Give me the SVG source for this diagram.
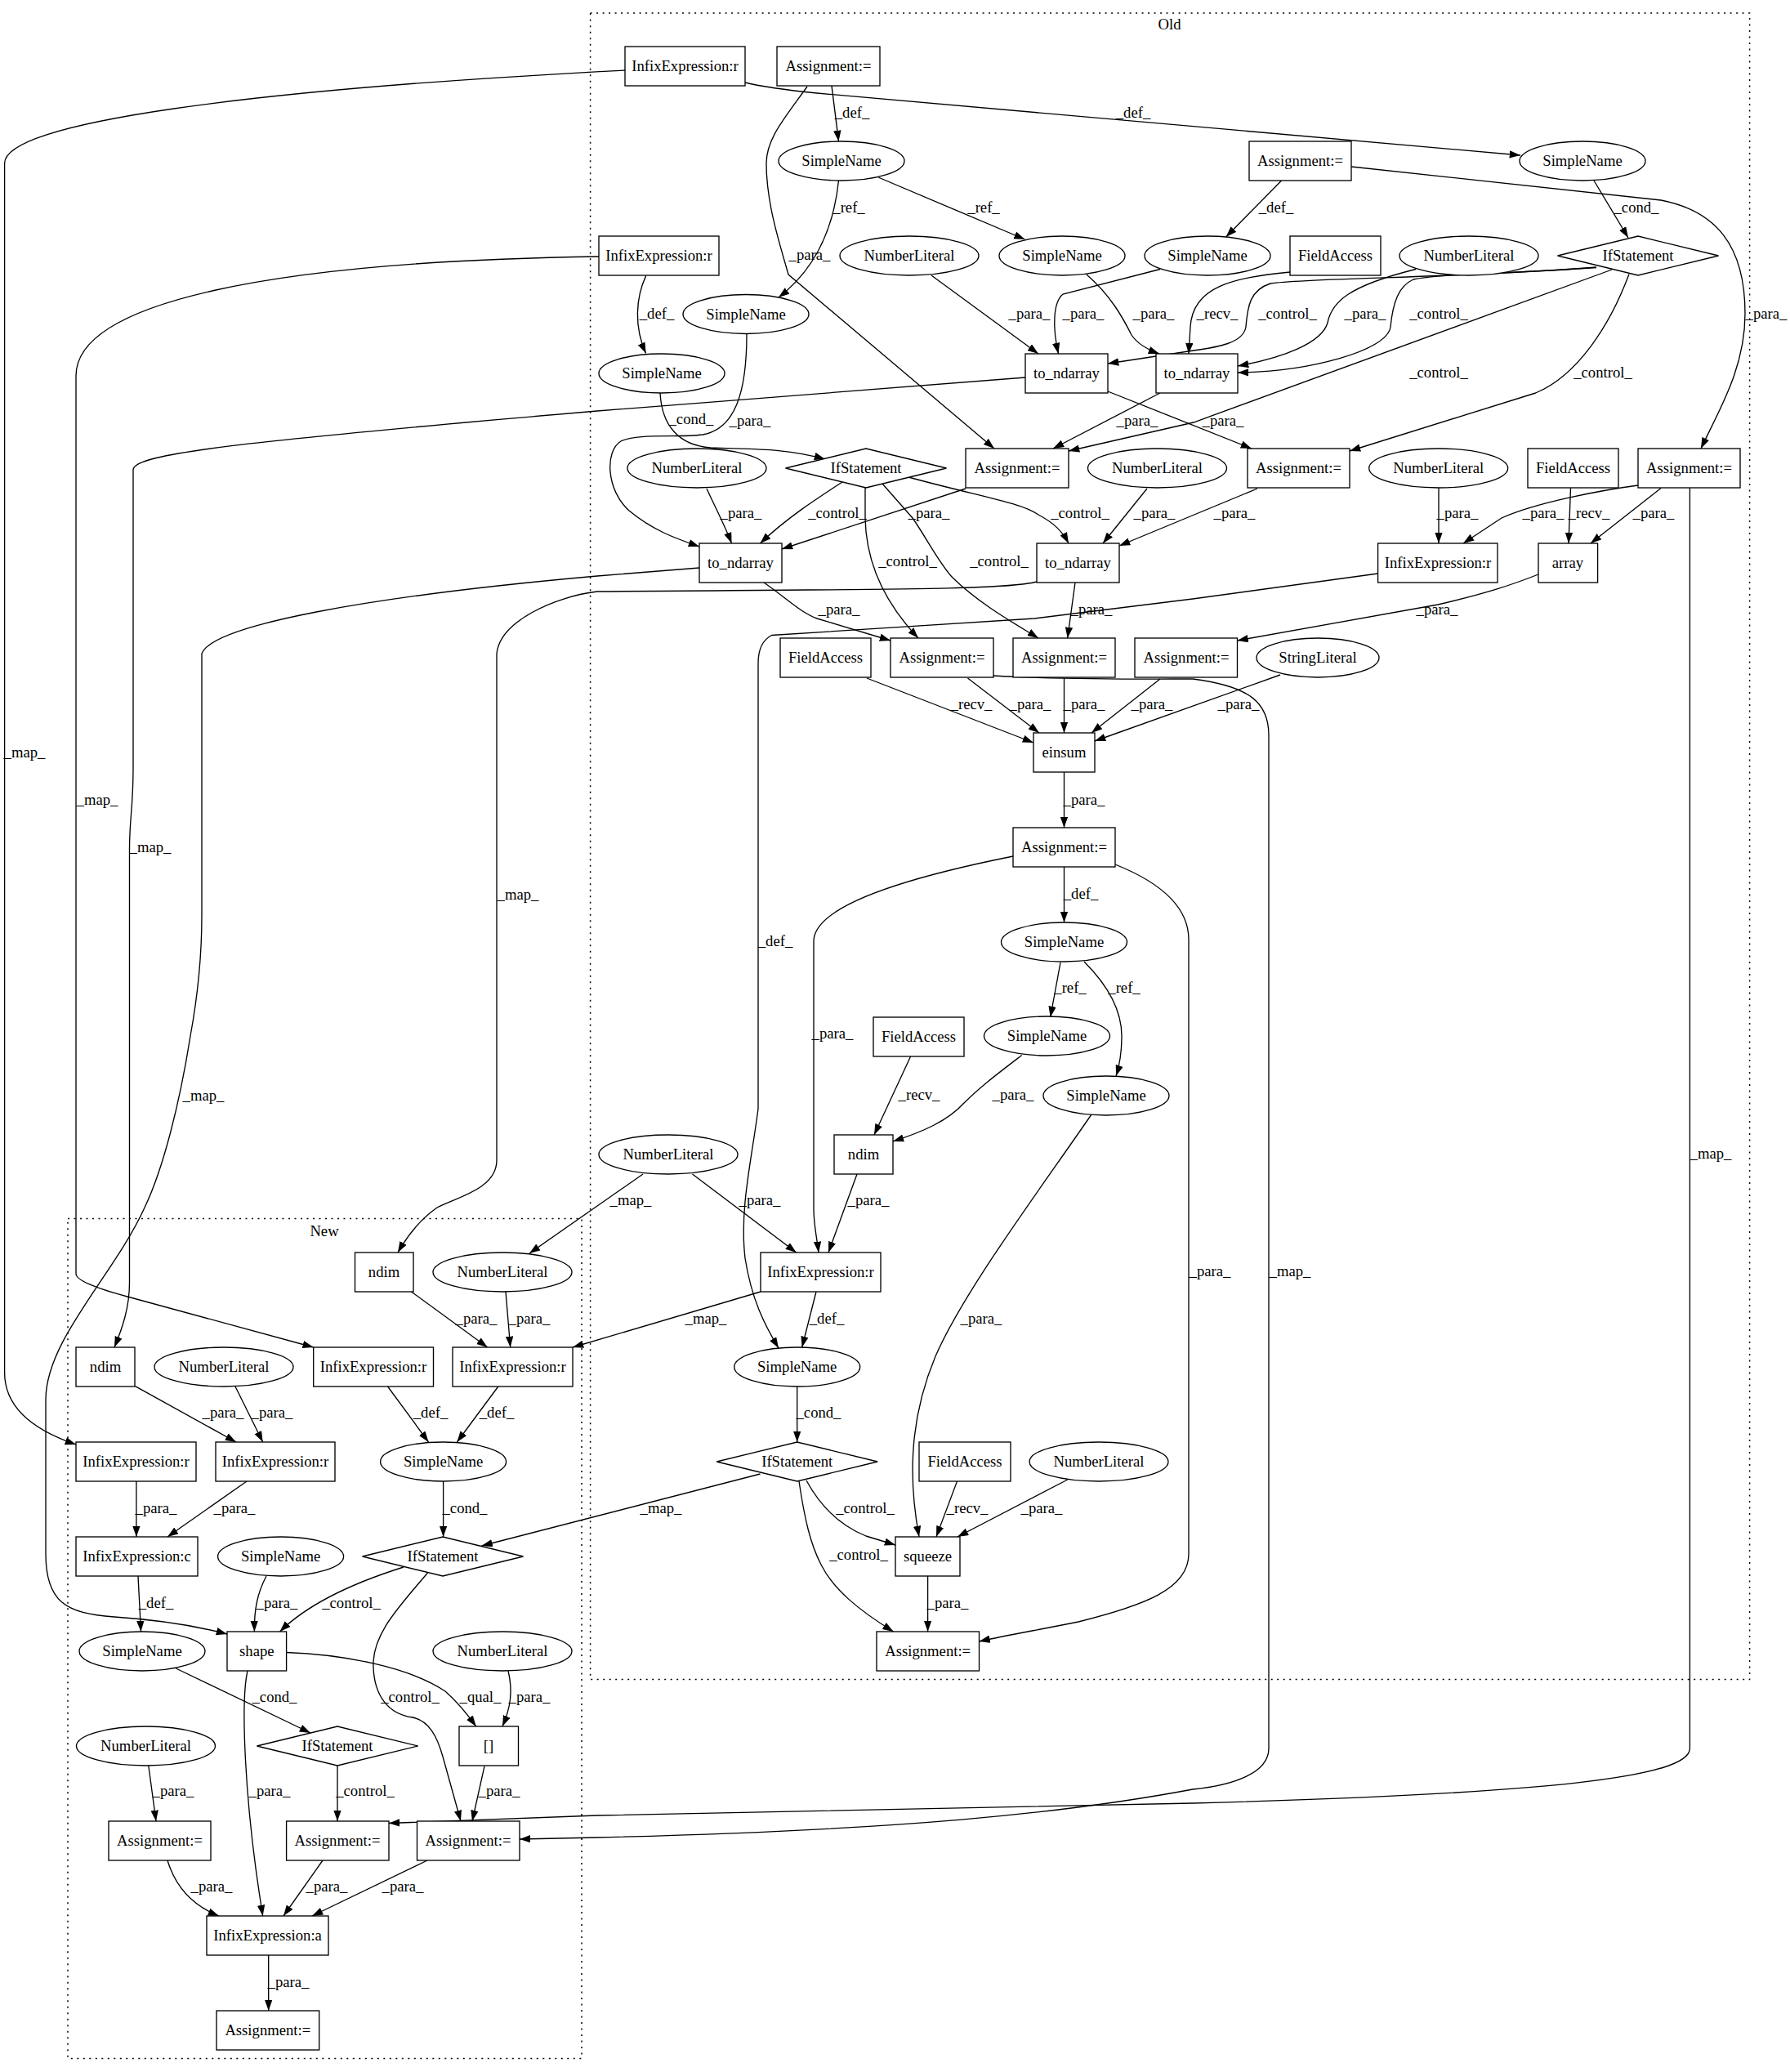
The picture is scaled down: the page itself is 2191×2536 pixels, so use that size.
<svg xmlns="http://www.w3.org/2000/svg" width="2191" height="2536" viewBox="0 0 2191 2536">
<defs>
<marker id="ah" markerUnits="userSpaceOnUse" markerWidth="14" markerHeight="10" viewBox="0 0 14 10" refX="13.3" refY="4.7" orient="auto"><path d="M0,0 L13.3,4.7 L0,9.4 z" fill="#000"/></marker>
<style>
text{font-family:"Liberation Serif","Times New Roman",serif;font-size:18.67px;fill:#000;text-anchor:middle}
.b{fill:#fff;stroke:#000;stroke-width:1.33}
.c{fill:none;stroke:#000;stroke-width:1.5;stroke-dasharray:2,5.5}
.e path{fill:none;stroke:#000;stroke-width:1.33;marker-end:url(#ah)}
</style>
</defs>
<rect width="2191" height="2536" fill="#fff"/>
<g id="cluster_old"><rect class="c" x="722.6" y="16" width="1419" height="2039.6"/><text x="1431.6" y="36">Old</text></g>
<g id="cluster_new"><rect class="c" x="83" y="1491.6" width="629" height="1027.8"/><text x="397" y="1513">New</text></g>

<g class="e" id="edges">
<path d="M912,101 Q940,108 1000,114 L1861,190"/>
<path d="M765,86 C300,110 5.6,150 5.6,200 L5.6,1680 C5.6,1722 40,1750 93,1768"/>
<path d="M1018,105 L1026.5,173"/>
<path d="M988,106 C960,145 938,170 938,200 C938,250 955,300 965,336 L1217,549"/>
<path d="M1026.5,221 C1020,283 996,331 953,364"/>
<path d="M1075,217 L1254.5,293"/>
<path d="M1568.6,221 L1500.6,290"/>
<path d="M1654,204 L2033,245 C2100,258 2136,300 2136,384 C2136,450 2105,500 2082,549"/>
<path d="M1951,221 L1993,291"/>
<path d="M790.6,337.6 C778,365 776,400 790.6,432.6"/>
<path d="M733,314 C330,320 93,370 93,460 L93,1559 Q93,1570 156,1587 L383.7,1649"/>
<path d="M1140,337 L1271,433"/>
<path d="M1420,329.5 L1301,360 C1289,370 1288,400 1295.5,433"/>
<path d="M1330,336 C1360,362 1375,390 1385,410 C1393,422 1405,428 1419,433"/>
<path d="M1579,333 C1510,340 1460,350 1457,400 L1455,433"/>
<path d="M1733,329.5 C1650,350 1630,370 1625,395 C1618,420 1570,438 1515,448"/>
<path d="M1954,327.5 C1850,335 1760,335 1730,342 C1712,350 1705,370 1702,400 C1698,430 1600,455 1515,456"/>
<path d="M1954,327 C1800,340 1600,340 1555,347 C1530,355 1527,375 1525,400 C1522,420 1490,425 1461,429 L1356,445"/>
<path d="M1973,330 L1461,517 L1308,552"/>
<path d="M1994,335.6 C1970,400 1930,460 1879.6,481 L1652,552"/>
<path d="M914,409 C914,480 900,525 860,532 C830,536 780,530 760,540 C740,552 742,600 770,625 C800,650 830,660 856,669"/>
<path d="M808,481 C810,520 830,545 870,548 C920,550 960,548 1010,562"/>
<path d="M1255,462 L731,503 C300,540 163,555 163,575 L163,940 C163,990 158.5,1000 158.5,1040 L158.5,1570 C158.5,1600 150,1625 140,1649"/>
<path d="M865,598 C875,620 888,645 895.5,665"/>
<path d="M1031,590 C1000,610 963,634 930.5,665"/>
<path d="M1112,584 C1200,608 1250,615 1271,630 C1290,640 1300,650 1308,665"/>
<path d="M1059,597 L1059,634 C1060,690 1085,740 1124,781"/>
<path d="M1080,592 L1117,634 C1135,660 1150,690 1166,707 C1200,740 1240,762 1271,781"/>
<path d="M1182,598 L957,672"/>
<path d="M1420,481 L1289,549"/>
<path d="M1356,479 L1532,549"/>
<path d="M1404,598 L1350,665"/>
<path d="M1539,598 L1370,668"/>
<path d="M1761,597.6 L1761,665"/>
<path d="M2005,594 C1960,600 1880,615 1838,634 L1791,665"/>
<path d="M1922.5,597.6 L1920,665"/>
<path d="M2033,597.6 L1947,665"/>
<path d="M2068.4,597 L2068.4,2140 C2068.4,2175 1900,2195 1460,2207 L731,2222 L476,2231.5"/>
<path d="M1216,827 C1300,832 1400,831 1460,831 C1530,840 1553,860 1553,900 L1553,2140 C1553,2170 1510,2185 1460,2190 C1300,2220 1100,2240 730,2249 L636,2251"/>
<path d="M935,713 C960,730 980,750 1000,757 L1090,784"/>
<path d="M1316,713 L1306.7,781"/>
<path d="M856,695 L731,705 C450,730 260,765 247,800 L247,1120 C247,1180 240,1230 233,1268 C220,1350 200,1430 177,1478 C140,1560 56,1640 56,1713 L56,1902 C56,1960 80,1975 140,1979 C200,1983 240,1990 278,2000"/>
<path d="M1269,712 C1230,722 1100,721 731,724 C680,730 612,760 608,800 L608,1420 C608,1455 560,1465 535,1478 C515,1492 500,1510 487,1533"/>
<path d="M1686.6,702 L1460,733 L1266,757 L944.5,777.5 C930,785 928,800 928,812 L928,1357 C920,1420 905,1480 912,1540 C920,1590 935,1620 953,1650"/>
<path d="M1061,830 L1265,909"/>
<path d="M1184.5,830 L1272,897"/>
<path d="M1302.5,830 L1302.5,897"/>
<path d="M1420,831 L1336,897"/>
<path d="M1567,826 L1340,907"/>
<path d="M1883,703 C1850,716 1820,726 1760,740 L1514.5,784"/>
<path d="M1302.5,945 L1302.5,1013"/>
<path d="M1302.5,1061 L1302.5,1129"/>
<path d="M1240,1048 C1100,1076 996,1110 996,1152 L996,1480 C996,1500 1000,1515 1002,1533"/>
<path d="M1365,1058 C1420,1080 1455,1110 1455,1150 L1455,1902 C1455,1945 1400,1965 1320,1985 C1270,1995 1230,2002 1198.5,2009"/>
<path d="M1298,1178 L1285.7,1245"/>
<path d="M1327,1177 C1360,1210 1373,1240 1373,1268 C1373,1290 1370,1305 1366,1317"/>
<path d="M1114.6,1293 L1070,1389"/>
<path d="M1250.7,1291.5 C1220,1315 1200,1330 1180,1350 C1160,1372 1130,1385 1093,1397"/>
<path d="M1049,1437 L1014,1533"/>
<path d="M847.5,1437 L974.7,1533"/>
<path d="M787,1437 L648,1534"/>
<path d="M931,1581 L701,1649"/>
<path d="M999,1581 L981.7,1649"/>
<path d="M975.7,1697 L975.7,1765"/>
<path d="M930.5,1804 L589.5,1892"/>
<path d="M987,1812 C1005,1845 1030,1868 1060,1880 L1096,1891"/>
<path d="M978,1813 C985,1860 992,1890 1005,1915 C1020,1945 1050,1970 1093.6,1997"/>
<path d="M1171.5,1813 L1146,1881"/>
<path d="M1306.7,1811 L1172,1881"/>
<path d="M1336,1364 C1270,1460 1180,1580 1145,1660 C1120,1720 1108,1790 1125,1881"/>
<path d="M1135.6,1929 L1135.6,1997"/>
<path d="M503.5,1581 L596.7,1649"/>
<path d="M619,1581 L624.7,1649"/>
<path d="M474.6,1697 L524.5,1765"/>
<path d="M609.8,1697 L559.4,1765"/>
<path d="M165.5,1696.6 L289,1765"/>
<path d="M288,1697 L321.7,1765"/>
<path d="M166.9,1813 L166.9,1881"/>
<path d="M302,1813 L205,1881"/>
<path d="M542.6,1813 L542.6,1881"/>
<path d="M169,1929 L172.5,1997"/>
<path d="M326,1929 C315,1950 311,1970 311.4,1997"/>
<path d="M494,1918 C440,1935 380,1960 342.6,1997"/>
<path d="M523.5,1925 C490,1965 455,2000 457,2040 C458,2075 475,2098 505,2102 C525,2106 535,2125 542,2150 L564,2229"/>
<path d="M350.6,2022.5 C420,2025 500,2040 545,2070 C562,2085 572,2098 582.7,2113"/>
<path d="M622,2045 C628,2070 625,2090 615,2113"/>
<path d="M215.4,2042 L380,2121"/>
<path d="M303,2045 C295,2080 298,2200 321.7,2345"/>
<path d="M181.8,2161 L191,2229"/>
<path d="M413,2161 L413,2229"/>
<path d="M593,2161.6 L578,2229"/>
<path d="M205,2277 C215,2310 235,2332 268,2345"/>
<path d="M395,2277 L347,2345"/>
<path d="M523,2277 L382,2345"/>
<path d="M328.7,2393 L328.7,2461"/>
</g>

<g id="edge_labels">
<text x="1387" y="144">_def_</text>
<text x="30" y="927">_map_</text>
<text x="1043" y="144">_def_</text>
<text x="991" y="318">_para_</text>
<text x="1039" y="260">_ref_</text>
<text x="1204" y="260">_ref_</text>
<text x="1562" y="260">_def_</text>
<text x="2162" y="390">_para_</text>
<text x="2003" y="260">_cond_</text>
<text x="804" y="390">_def_</text>
<text x="119" y="985">_map_</text>
<text x="1260" y="390">_para_</text>
<text x="1326" y="390">_para_</text>
<text x="1412" y="390">_para_</text>
<text x="1490" y="390">_recv_</text>
<text x="1671" y="390">_para_</text>
<text x="1761" y="390">_control_</text>
<text x="1576" y="390">_control_</text>
<text x="1761" y="462">_control_</text>
<text x="1962" y="462">_control_</text>
<text x="918" y="521">_para_</text>
<text x="846" y="519">_cond_</text>
<text x="1392" y="521">_para_</text>
<text x="1497" y="521">_para_</text>
<text x="184" y="1043">_map_</text>
<text x="907" y="634">_para_</text>
<text x="1025" y="634">_control_</text>
<text x="1137" y="634">_para_</text>
<text x="1322" y="634">_control_</text>
<text x="1413" y="634">_para_</text>
<text x="1511" y="634">_para_</text>
<text x="1784" y="634">_para_</text>
<text x="1889" y="634">_para_</text>
<text x="1945" y="634">_recv_</text>
<text x="2024" y="634">_para_</text>
<text x="1111" y="693">_control_</text>
<text x="1223" y="693">_control_</text>
<text x="1027" y="752">_para_</text>
<text x="1336" y="752">_para_</text>
<text x="1759" y="752">_para_</text>
<text x="1189" y="868">_recv_</text>
<text x="1261" y="868">_para_</text>
<text x="1327" y="868">_para_</text>
<text x="1410" y="868">_para_</text>
<text x="1516" y="868">_para_</text>
<text x="1327" y="985">_para_</text>
<text x="1323" y="1100">_def_</text>
<text x="949" y="1158">_def_</text>
<text x="634" y="1101">_map_</text>
<text x="249" y="1347">_map_</text>
<text x="1310" y="1215">_ref_</text>
<text x="1376" y="1215">_ref_</text>
<text x="1019" y="1271">_para_</text>
<text x="1125" y="1346">_recv_</text>
<text x="1240" y="1346">_para_</text>
<text x="2094" y="1418">_map_</text>
<text x="1063" y="1475">_para_</text>
<text x="930" y="1475">_para_</text>
<text x="772" y="1475">_map_</text>
<text x="1481" y="1562">_para_</text>
<text x="1579" y="1562">_map_</text>
<text x="864" y="1620">_map_</text>
<text x="1012" y="1620">_def_</text>
<text x="1201" y="1620">_para_</text>
<text x="1002" y="1735">_cond_</text>
<text x="809" y="1852">_map_</text>
<text x="1059" y="1852">_control_</text>
<text x="1184" y="1852">_recv_</text>
<text x="1275" y="1852">_para_</text>
<text x="1051" y="1909">_control_</text>
<text x="1160" y="1968">_para_</text>
<text x="583" y="1620">_para_</text>
<text x="648" y="1620">_para_</text>
<text x="527" y="1735">_def_</text>
<text x="608" y="1735">_def_</text>
<text x="273" y="1735">_para_</text>
<text x="333" y="1735">_para_</text>
<text x="191" y="1852">_para_</text>
<text x="287" y="1852">_para_</text>
<text x="569" y="1852">_cond_</text>
<text x="191" y="1968">_def_</text>
<text x="339" y="1968">_para_</text>
<text x="430" y="1968">_control_</text>
<text x="336" y="2083">_cond_</text>
<text x="502" y="2083">_control_</text>
<text x="588" y="2083">_qual_</text>
<text x="648" y="2083">_para_</text>
<text x="212" y="2198">_para_</text>
<text x="330" y="2198">_para_</text>
<text x="447" y="2198">_control_</text>
<text x="611" y="2198">_para_</text>
<text x="259" y="2315">_para_</text>
<text x="400" y="2315">_para_</text>
<text x="493" y="2315">_para_</text>
<text x="353" y="2432">_para_</text>
</g>

<g id="A1"><rect class="b" x="765" y="57" width="147" height="48"/><text x="838.5" y="87">InfixExpression:r</text></g>
<g id="A2"><rect class="b" x="951" y="57" width="126" height="48"/><text x="1014" y="87">Assignment:=</text></g>
<g id="S1"><ellipse class="b" cx="1030" cy="197" rx="77" ry="24"/><text x="1030" y="203">SimpleName</text></g>
<g id="S2"><ellipse class="b" cx="1937" cy="197" rx="77" ry="24"/><text x="1937" y="203">SimpleName</text></g>
<g id="A3"><rect class="b" x="1529" y="173" width="125" height="48"/><text x="1591.5" y="203">Assignment:=</text></g>
<g id="I2"><rect class="b" x="733" y="289" width="147" height="48"/><text x="806.5" y="319">InfixExpression:r</text></g>
<g id="N1"><ellipse class="b" cx="1113" cy="313" rx="85" ry="24"/><text x="1113" y="319">NumberLiteral</text></g>
<g id="S3"><ellipse class="b" cx="1300" cy="313" rx="77" ry="24"/><text x="1300" y="319">SimpleName</text></g>
<g id="S4"><ellipse class="b" cx="1478" cy="313" rx="77" ry="24"/><text x="1478" y="319">SimpleName</text></g>
<g id="F1"><rect class="b" x="1579" y="289" width="111" height="48"/><text x="1634.5" y="319">FieldAccess</text></g>
<g id="N2"><ellipse class="b" cx="1798" cy="313" rx="85" ry="24"/><text x="1798" y="319">NumberLiteral</text></g>
<g id="IF1"><polygon class="b" points="1906.5,313 2005,289 2103.5,313 2005,337"/><text x="2005" y="319">IfStatement</text></g>
<g id="S5"><ellipse class="b" cx="913" cy="384.5" rx="77" ry="24"/><text x="913" y="390.5">SimpleName</text></g>
<g id="S6"><ellipse class="b" cx="810" cy="457" rx="77" ry="24"/><text x="810" y="463">SimpleName</text></g>
<g id="T1"><rect class="b" x="1255" y="433" width="101" height="48"/><text x="1305.5" y="463">to_ndarray</text></g>
<g id="T2"><rect class="b" x="1415" y="433" width="100" height="48"/><text x="1465" y="463">to_ndarray</text></g>
<g id="N3"><ellipse class="b" cx="853" cy="573" rx="85" ry="24"/><text x="853" y="579">NumberLiteral</text></g>
<g id="IF2"><polygon class="b" points="961.5,573 1060,549 1158.5,573 1060,597"/><text x="1060" y="579">IfStatement</text></g>
<g id="A4"><rect class="b" x="1182" y="549" width="126" height="48"/><text x="1245" y="579">Assignment:=</text></g>
<g id="N4"><ellipse class="b" cx="1416.5" cy="573" rx="85" ry="24"/><text x="1416.5" y="579">NumberLiteral</text></g>
<g id="A5"><rect class="b" x="1527" y="549" width="125" height="48"/><text x="1589.5" y="579">Assignment:=</text></g>
<g id="N5"><ellipse class="b" cx="1760.7" cy="573" rx="85" ry="24"/><text x="1760.7" y="579">NumberLiteral</text></g>
<g id="F2"><rect class="b" x="1870" y="549" width="111" height="48"/><text x="1925.5" y="579">FieldAccess</text></g>
<g id="A6"><rect class="b" x="2005" y="549" width="125" height="48"/><text x="2067.5" y="579">Assignment:=</text></g>
<g id="T3"><rect class="b" x="856" y="665" width="101" height="48"/><text x="906.5" y="695">to_ndarray</text></g>
<g id="T4"><rect class="b" x="1269" y="665" width="101" height="48"/><text x="1319.5" y="695">to_ndarray</text></g>
<g id="I3"><rect class="b" x="1686.6" y="665" width="146.4" height="48"/><text x="1760" y="695">InfixExpression:r</text></g>
<g id="AR"><rect class="b" x="1883" y="665" width="72.6" height="48"/><text x="1919" y="695">array</text></g>
<g id="F3"><rect class="b" x="955" y="781" width="111" height="48"/><text x="1010.5" y="811">FieldAccess</text></g>
<g id="A7"><rect class="b" x="1090" y="781" width="126" height="48"/><text x="1153" y="811">Assignment:=</text></g>
<g id="A8"><rect class="b" x="1240" y="781" width="125" height="48"/><text x="1302.5" y="811">Assignment:=</text></g>
<g id="A9"><rect class="b" x="1389" y="781" width="125.5" height="48"/><text x="1452" y="811">Assignment:=</text></g>
<g id="SL"><ellipse class="b" cx="1613" cy="805" rx="75" ry="24"/><text x="1613" y="811">StringLiteral</text></g>
<g id="E"><rect class="b" x="1265" y="897" width="75" height="48"/><text x="1302.5" y="927">einsum</text></g>
<g id="A10"><rect class="b" x="1240" y="1013" width="125" height="48"/><text x="1302.5" y="1043">Assignment:=</text></g>
<g id="S7"><ellipse class="b" cx="1302.5" cy="1153" rx="77" ry="24"/><text x="1302.5" y="1159">SimpleName</text></g>
<g id="F4"><rect class="b" x="1069" y="1245" width="111" height="48"/><text x="1124.5" y="1275">FieldAccess</text></g>
<g id="S8"><ellipse class="b" cx="1281.5" cy="1268" rx="77" ry="24"/><text x="1281.5" y="1274">SimpleName</text></g>
<g id="S9"><ellipse class="b" cx="1354" cy="1341" rx="77" ry="24"/><text x="1354" y="1347">SimpleName</text></g>
<g id="N6"><ellipse class="b" cx="818" cy="1413" rx="85" ry="24"/><text x="818" y="1419">NumberLiteral</text></g>
<g id="ND1"><rect class="b" x="1021" y="1389" width="72" height="48"/><text x="1057" y="1419">ndim</text></g>
<g id="I4"><rect class="b" x="931" y="1533" width="147" height="48"/><text x="1004.5" y="1563">InfixExpression:r</text></g>
<g id="S10"><ellipse class="b" cx="975.7" cy="1673" rx="77" ry="24"/><text x="975.7" y="1679">SimpleName</text></g>
<g id="IF3"><polygon class="b" points="877.2,1789 975.7,1765 1074.2,1789 975.7,1813"/><text x="975.7" y="1795">IfStatement</text></g>
<g id="F5"><rect class="b" x="1125" y="1765" width="112" height="48"/><text x="1181" y="1795">FieldAccess</text></g>
<g id="N7"><ellipse class="b" cx="1345" cy="1789" rx="85" ry="24"/><text x="1345" y="1795">NumberLiteral</text></g>
<g id="SQ"><rect class="b" x="1096" y="1881" width="79" height="48"/><text x="1135.5" y="1911">squeeze</text></g>
<g id="A11"><rect class="b" x="1073" y="1997" width="125.5" height="48"/><text x="1135.7" y="2027">Assignment:=</text></g>

<g id="ND2"><rect class="b" x="434.5" y="1533" width="71.5" height="48"/><text x="470" y="1563">ndim</text></g>
<g id="N8"><ellipse class="b" cx="615" cy="1557" rx="85" ry="24"/><text x="615" y="1563">NumberLiteral</text></g>
<g id="ND3"><rect class="b" x="93" y="1649" width="72" height="48"/><text x="129" y="1679">ndim</text></g>
<g id="N9"><ellipse class="b" cx="274" cy="1673" rx="85" ry="24"/><text x="274" y="1679">NumberLiteral</text></g>
<g id="I5"><rect class="b" x="383.7" y="1649" width="146.8" height="48"/><text x="457" y="1679">InfixExpression:r</text></g>
<g id="I6"><rect class="b" x="554" y="1649" width="147" height="48"/><text x="627.5" y="1679">InfixExpression:r</text></g>
<g id="I7"><rect class="b" x="93" y="1765" width="147" height="48"/><text x="166.5" y="1795">InfixExpression:r</text></g>
<g id="I8"><rect class="b" x="264" y="1765" width="146" height="48"/><text x="337" y="1795">InfixExpression:r</text></g>
<g id="S11"><ellipse class="b" cx="542.6" cy="1789" rx="77" ry="24"/><text x="542.6" y="1795">SimpleName</text></g>
<g id="IC"><rect class="b" x="93" y="1881" width="149" height="48"/><text x="167.5" y="1911">InfixExpression:c</text></g>
<g id="S12"><ellipse class="b" cx="343.6" cy="1905" rx="77" ry="24"/><text x="343.6" y="1911">SimpleName</text></g>
<g id="IF4"><polygon class="b" points="443.5,1905 542,1881 640.5,1905 542,1929"/><text x="542" y="1911">IfStatement</text></g>
<g id="S13"><ellipse class="b" cx="174" cy="2021" rx="77" ry="24"/><text x="174" y="2027">SimpleName</text></g>
<g id="SH"><rect class="b" x="278" y="1997" width="72.6" height="48"/><text x="314.3" y="2027">shape</text></g>
<g id="N10"><ellipse class="b" cx="615" cy="2021" rx="85" ry="24"/><text x="615" y="2027">NumberLiteral</text></g>
<g id="IF5"><polygon class="b" points="314.5,2137 413,2113 511.5,2137 413,2161"/><text x="413" y="2143">IfStatement</text></g>
<g id="BR"><rect class="b" x="562" y="2113" width="72.5" height="48"/><text x="598" y="2143">[]</text></g>
<g id="N11"><ellipse class="b" cx="178.5" cy="2137" rx="85" ry="24"/><text x="178.5" y="2143">NumberLiteral</text></g>
<g id="A12"><rect class="b" x="133" y="2229" width="125" height="48"/><text x="195.5" y="2259">Assignment:=</text></g>
<g id="A13"><rect class="b" x="350.6" y="2229" width="125.4" height="48"/><text x="413" y="2259">Assignment:=</text></g>
<g id="A14"><rect class="b" x="510.5" y="2229" width="125.5" height="48"/><text x="573" y="2259">Assignment:=</text></g>
<g id="IA"><rect class="b" x="253" y="2345" width="149" height="48"/><text x="327.6" y="2375">InfixExpression:a</text></g>
<g id="A15"><rect class="b" x="265" y="2461" width="125.7" height="48"/><text x="327.8" y="2491">Assignment:=</text></g>
</svg>
